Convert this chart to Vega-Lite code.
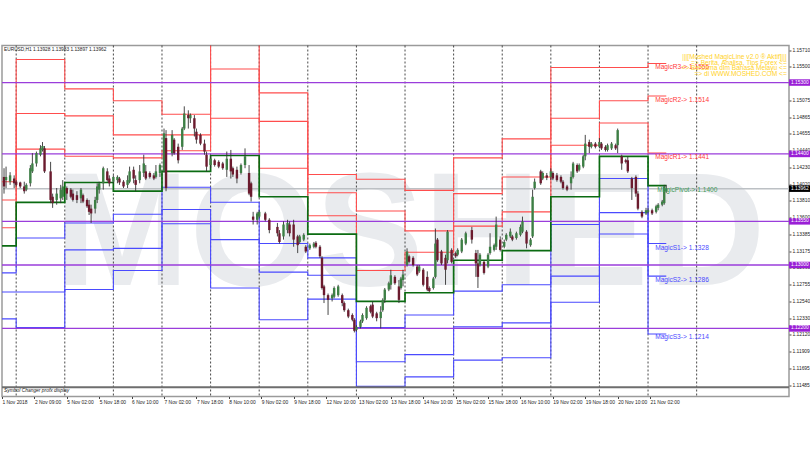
{
  "$schema": "https://vega.github.io/schema/vega-lite/v6.json",
  "width": 787,
  "height": 351,
  "autosize": {"type": "none"},
  "padding": {"left": 2, "top": 45.5, "right": 21, "bottom": 53.5},
  "background": "white",
  "datasets": {
    "candles": [
      {"bar":1,"o":1.1411,"h":1.1422,"l":1.1390,"c":1.1399},{"bar":2,"o":1.1407,"h":1.1424,"l":1.1397,"c":1.1411},{"bar":4,"o":1.1405,"h":1.1417,"l":1.1401,"c":1.1413},{"bar":6,"o":1.1409,"h":1.1413,"l":1.1397,"c":1.1403},{"bar":7,"o":1.1405,"h":1.1407,"l":1.1399,"c":1.1401},{"bar":9,"o":1.1404,"h":1.1405,"l":1.1397,"c":1.1399},{"bar":11,"o":1.1399,"h":1.1405,"l":1.1390,"c":1.1393},{"bar":12,"o":1.1395,"h":1.1403,"l":1.1393,"c":1.1401},{"bar":14,"o":1.1403,"h":1.1426,"l":1.1399,"c":1.1422},{"bar":15,"o":1.1418,"h":1.1441,"l":1.1416,"c":1.1428},{"bar":17,"o":1.1428,"h":1.1443,"l":1.1424,"c":1.1441},{"bar":19,"o":1.1439,"h":1.1451,"l":1.1437,"c":1.1447},{"bar":20,"o":1.1445,"h":1.1455,"l":1.1443,"c":1.1450},{"bar":21,"o":1.1447,"h":1.1450,"l":1.1416,"c":1.1418},{"bar":24,"o":1.1418,"h":1.1430,"l":1.1378,"c":1.1382},{"bar":25,"o":1.1386,"h":1.1390,"l":1.1372,"c":1.1378},{"bar":27,"o":1.1382,"h":1.1397,"l":1.1376,"c":1.1390},{"bar":29,"o":1.1384,"h":1.1401,"l":1.1378,"c":1.1395},{"bar":30,"o":1.1386,"h":1.1407,"l":1.1382,"c":1.1399},{"bar":32,"o":1.1397,"h":1.1399,"l":1.1382,"c":1.1390},{"bar":34,"o":1.1395,"h":1.1397,"l":1.1384,"c":1.1386},{"bar":35,"o":1.1390,"h":1.1395,"l":1.1380,"c":1.1382},{"bar":37,"o":1.1388,"h":1.1393,"l":1.1378,"c":1.1382},{"bar":39,"o":1.1384,"h":1.1397,"l":1.1378,"c":1.1395},{"bar":40,"o":1.1388,"h":1.1390,"l":1.1378,"c":1.1380},{"bar":42,"o":1.1382,"h":1.1384,"l":1.1372,"c":1.1374},{"bar":43,"o":1.1376,"h":1.1382,"l":1.1363,"c":1.1367},{"bar":44,"o":1.1371,"h":1.1376,"l":1.1353,"c":1.1365},{"bar":46,"o":1.1371,"h":1.1386,"l":1.1365,"c":1.1382},{"bar":47,"o":1.1382,"h":1.1403,"l":1.1378,"c":1.1399},{"bar":48,"o":1.1395,"h":1.1405,"l":1.1390,"c":1.1403},{"bar":50,"o":1.1403,"h":1.1424,"l":1.1395,"c":1.1422},{"bar":52,"o":1.1418,"h":1.1422,"l":1.1405,"c":1.1407},{"bar":53,"o":1.1409,"h":1.1413,"l":1.1399,"c":1.1403},{"bar":55,"o":1.1405,"h":1.1413,"l":1.1403,"c":1.1411},{"bar":57,"o":1.1407,"h":1.1413,"l":1.1403,"c":1.1411},{"bar":58,"o":1.1409,"h":1.1411,"l":1.1401,"c":1.1404},{"bar":60,"o":1.1405,"h":1.1407,"l":1.1397,"c":1.1399},{"bar":62,"o":1.1401,"h":1.1413,"l":1.1397,"c":1.1407},{"bar":63,"o":1.1405,"h":1.1424,"l":1.1403,"c":1.1418},{"bar":65,"o":1.1420,"h":1.1424,"l":1.1403,"c":1.1409},{"bar":66,"o":1.1407,"h":1.1413,"l":1.1393,"c":1.1401},{"bar":68,"o":1.1407,"h":1.1426,"l":1.1403,"c":1.1418},{"bar":70,"o":1.1416,"h":1.1439,"l":1.1411,"c":1.1428},{"bar":71,"o":1.1418,"h":1.1426,"l":1.1407,"c":1.1409},{"bar":73,"o":1.1416,"h":1.1418,"l":1.1409,"c":1.1411},{"bar":75,"o":1.1413,"h":1.1416,"l":1.1407,"c":1.1409},{"bar":76,"o":1.1411,"h":1.1426,"l":1.1409,"c":1.1418},{"bar":78,"o":1.1416,"h":1.1428,"l":1.1411,"c":1.1426},{"bar":80,"o":1.1418,"h":1.1472,"l":1.1416,"c":1.1466},{"bar":81,"o":1.1460,"h":1.1470,"l":1.1393,"c":1.1397},{"bar":84,"o":1.1441,"h":1.1470,"l":1.1437,"c":1.1464},{"bar":85,"o":1.1458,"h":1.1460,"l":1.1439,"c":1.1441},{"bar":87,"o":1.1449,"h":1.1453,"l":1.1428,"c":1.1432},{"bar":89,"o":1.1449,"h":1.1474,"l":1.1445,"c":1.1472},{"bar":90,"o":1.1472,"h":1.1500,"l":1.1470,"c":1.1491},{"bar":92,"o":1.1489,"h":1.1495,"l":1.1472,"c":1.1485},{"bar":93,"o":1.1485,"h":1.1491,"l":1.1479,"c":1.1489},{"bar":95,"o":1.1485,"h":1.1489,"l":1.1462,"c":1.1472},{"bar":96,"o":1.1468,"h":1.1472,"l":1.1453,"c":1.1458},{"bar":98,"o":1.1464,"h":1.1466,"l":1.1451,"c":1.1453},{"bar":100,"o":1.1453,"h":1.1458,"l":1.1439,"c":1.1443},{"bar":101,"o":1.1439,"h":1.1443,"l":1.1418,"c":1.1424},{"bar":103,"o":1.1426,"h":1.1437,"l":1.1422,"c":1.1434},{"bar":105,"o":1.1432,"h":1.1434,"l":1.1424,"c":1.1426},{"bar":107,"o":1.1430,"h":1.1432,"l":1.1422,"c":1.1424},{"bar":109,"o":1.1428,"h":1.1430,"l":1.1420,"c":1.1422},{"bar":111,"o":1.1420,"h":1.1443,"l":1.1411,"c":1.1434},{"bar":113,"o":1.1434,"h":1.1445,"l":1.1409,"c":1.1418},{"bar":114,"o":1.1422,"h":1.1424,"l":1.1411,"c":1.1414},{"bar":116,"o":1.1420,"h":1.1424,"l":1.1403,"c":1.1409},{"bar":118,"o":1.1416,"h":1.1428,"l":1.1414,"c":1.1426},{"bar":120,"o":1.1426,"h":1.1447,"l":1.1422,"c":1.1437},{"bar":122,"o":1.1416,"h":1.1426,"l":1.1388,"c":1.1390},{"bar":123,"o":1.1403,"h":1.1405,"l":1.1380,"c":1.1386},{"bar":124,"o":1.1361,"h":1.1367,"l":1.1351,"c":1.1357},{"bar":126,"o":1.1357,"h":1.1367,"l":1.1351,"c":1.1365},{"bar":127,"o":1.1361,"h":1.1369,"l":1.1359,"c":1.1367},{"bar":130,"o":1.1365,"h":1.1367,"l":1.1355,"c":1.1357},{"bar":132,"o":1.1357,"h":1.1359,"l":1.1340,"c":1.1344},{"bar":136,"o":1.1348,"h":1.1353,"l":1.1336,"c":1.1340},{"bar":137,"o":1.1340,"h":1.1344,"l":1.1327,"c":1.1329},{"bar":139,"o":1.1336,"h":1.1355,"l":1.1332,"c":1.1351},{"bar":141,"o":1.1344,"h":1.1357,"l":1.1340,"c":1.1353},{"bar":142,"o":1.1351,"h":1.1355,"l":1.1336,"c":1.1340},{"bar":144,"o":1.1351,"h":1.1357,"l":1.1323,"c":1.1332},{"bar":146,"o":1.1336,"h":1.1338,"l":1.1315,"c":1.1325},{"bar":147,"o":1.1329,"h":1.1338,"l":1.1327,"c":1.1336},{"bar":149,"o":1.1332,"h":1.1340,"l":1.1330,"c":1.1338},{"bar":150,"o":1.1323,"h":1.1325,"l":1.1315,"c":1.1317},{"bar":152,"o":1.1321,"h":1.1327,"l":1.1319,"c":1.1325},{"bar":154,"o":1.1323,"h":1.1329,"l":1.1321,"c":1.1327},{"bar":155,"o":1.1328,"h":1.1330,"l":1.1321,"c":1.1323},{"bar":157,"o":1.1323,"h":1.1325,"l":1.1309,"c":1.1311},{"bar":158,"o":1.1309,"h":1.1311,"l":1.1269,"c":1.1271},{"bar":159,"o":1.1273,"h":1.1275,"l":1.1252,"c":1.1262},{"bar":161,"o":1.1262,"h":1.1264,"l":1.1237,"c":1.1256},{"bar":163,"o":1.1258,"h":1.1264,"l":1.1254,"c":1.1262},{"bar":164,"o":1.1260,"h":1.1273,"l":1.1258,"c":1.1271},{"bar":166,"o":1.1262,"h":1.1275,"l":1.1260,"c":1.1273},{"bar":168,"o":1.1262,"h":1.1264,"l":1.1248,"c":1.1252},{"bar":169,"o":1.1252,"h":1.1254,"l":1.1241,"c":1.1243},{"bar":171,"o":1.1243,"h":1.1245,"l":1.1233,"c":1.1235},{"bar":173,"o":1.1237,"h":1.1239,"l":1.1229,"c":1.1231},{"bar":174,"o":1.1231,"h":1.1233,"l":1.1215,"c":1.1217},{"bar":175,"o":1.1218,"h":1.1224,"l":1.1216,"c":1.1222},{"bar":177,"o":1.1222,"h":1.1231,"l":1.1220,"c":1.1229},{"bar":178,"o":1.1229,"h":1.1239,"l":1.1227,"c":1.1237},{"bar":180,"o":1.1233,"h":1.1248,"l":1.1231,"c":1.1246},{"bar":182,"o":1.1248,"h":1.1250,"l":1.1239,"c":1.1241},{"bar":183,"o":1.1250,"h":1.1254,"l":1.1233,"c":1.1235},{"bar":185,"o":1.1239,"h":1.1241,"l":1.1229,"c":1.1233},{"bar":187,"o":1.1233,"h":1.1248,"l":1.1220,"c":1.1241},{"bar":188,"o":1.1243,"h":1.1258,"l":1.1241,"c":1.1256},{"bar":189,"o":1.1256,"h":1.1271,"l":1.1252,"c":1.1269},{"bar":191,"o":1.1269,"h":1.1279,"l":1.1267,"c":1.1277},{"bar":192,"o":1.1275,"h":1.1294,"l":1.1269,"c":1.1287},{"bar":194,"o":1.1285,"h":1.1287,"l":1.1275,"c":1.1277},{"bar":196,"o":1.1273,"h":1.1281,"l":1.1252,"c":1.1256},{"bar":197,"o":1.1271,"h":1.1285,"l":1.1269,"c":1.1283},{"bar":198,"o":1.1281,"h":1.1294,"l":1.1273,"c":1.1288},{"bar":200,"o":1.1300,"h":1.1321,"l":1.1298,"c":1.1317},{"bar":201,"o":1.1311,"h":1.1313,"l":1.1302,"c":1.1304},{"bar":203,"o":1.1309,"h":1.1311,"l":1.1298,"c":1.1300},{"bar":205,"o":1.1298,"h":1.1300,"l":1.1286,"c":1.1288},{"bar":206,"o":1.1292,"h":1.1300,"l":1.1290,"c":1.1298},{"bar":208,"o":1.1294,"h":1.1296,"l":1.1273,"c":1.1275},{"bar":210,"o":1.1285,"h":1.1292,"l":1.1267,"c":1.1269},{"bar":211,"o":1.1271,"h":1.1273,"l":1.1265,"c":1.1267},{"bar":213,"o":1.1271,"h":1.1285,"l":1.1269,"c":1.1283},{"bar":214,"o":1.1285,"h":1.1346,"l":1.1283,"c":1.1327},{"bar":215,"o":1.1332,"h":1.1334,"l":1.1304,"c":1.1306},{"bar":217,"o":1.1317,"h":1.1319,"l":1.1300,"c":1.1302},{"bar":219,"o":1.1309,"h":1.1313,"l":1.1275,"c":1.1294},{"bar":220,"o":1.1306,"h":1.1344,"l":1.1302,"c":1.1342},{"bar":222,"o":1.1319,"h":1.1321,"l":1.1302,"c":1.1304},{"bar":224,"o":1.1315,"h":1.1317,"l":1.1309,"c":1.1311},{"bar":225,"o":1.1313,"h":1.1321,"l":1.1311,"c":1.1319},{"bar":227,"o":1.1317,"h":1.1334,"l":1.1315,"c":1.1332},{"bar":229,"o":1.1327,"h":1.1342,"l":1.1325,"c":1.1340},{"bar":232,"o":1.1344,"h":1.1348,"l":1.1327,"c":1.1332},{"bar":234,"o":1.1315,"h":1.1319,"l":1.1285,"c":1.1302},{"bar":235,"o":1.1302,"h":1.1319,"l":1.1271,"c":1.1285},{"bar":236,"o":1.1300,"h":1.1315,"l":1.1298,"c":1.1313},{"bar":238,"o":1.1304,"h":1.1306,"l":1.1288,"c":1.1290},{"bar":240,"o":1.1298,"h":1.1315,"l":1.1296,"c":1.1313},{"bar":241,"o":1.1315,"h":1.1340,"l":1.1313,"c":1.1323},{"bar":243,"o":1.1319,"h":1.1327,"l":1.1317,"c":1.1325},{"bar":244,"o":1.1323,"h":1.1361,"l":1.1319,"c":1.1351},{"bar":246,"o":1.1332,"h":1.1336,"l":1.1317,"c":1.1319},{"bar":248,"o":1.1323,"h":1.1332,"l":1.1321,"c":1.1329},{"bar":249,"o":1.1332,"h":1.1340,"l":1.1330,"c":1.1338},{"bar":251,"o":1.1336,"h":1.1346,"l":1.1334,"c":1.1342},{"bar":252,"o":1.1336,"h":1.1338,"l":1.1330,"c":1.1332},{"bar":254,"o":1.1334,"h":1.1342,"l":1.1332,"c":1.1340},{"bar":256,"o":1.1338,"h":1.1351,"l":1.1336,"c":1.1348},{"bar":257,"o":1.1342,"h":1.1361,"l":1.1340,"c":1.1355},{"bar":259,"o":1.1342,"h":1.1344,"l":1.1321,"c":1.1327},{"bar":261,"o":1.1325,"h":1.1334,"l":1.1323,"c":1.1332},{"bar":262,"o":1.1336,"h":1.1395,"l":1.1334,"c":1.1386},{"bar":263,"o":1.1397,"h":1.1409,"l":1.1395,"c":1.1405},{"bar":266,"o":1.1418,"h":1.1420,"l":1.1401,"c":1.1403},{"bar":267,"o":1.1409,"h":1.1418,"l":1.1407,"c":1.1416},{"bar":269,"o":1.1413,"h":1.1416,"l":1.1407,"c":1.1410},{"bar":271,"o":1.1411,"h":1.1422,"l":1.1407,"c":1.1418},{"bar":272,"o":1.1416,"h":1.1418,"l":1.1407,"c":1.1409},{"bar":274,"o":1.1413,"h":1.1416,"l":1.1405,"c":1.1407},{"bar":276,"o":1.1411,"h":1.1413,"l":1.1403,"c":1.1405},{"bar":277,"o":1.1405,"h":1.1407,"l":1.1395,"c":1.1397},{"bar":279,"o":1.1399,"h":1.1401,"l":1.1393,"c":1.1395},{"bar":281,"o":1.1403,"h":1.1418,"l":1.1395,"c":1.1411},{"bar":282,"o":1.1411,"h":1.1430,"l":1.1409,"c":1.1428},{"bar":284,"o":1.1426,"h":1.1428,"l":1.1416,"c":1.1418},{"bar":285,"o":1.1420,"h":1.1428,"l":1.1418,"c":1.1426},{"bar":287,"o":1.1424,"h":1.1439,"l":1.1422,"c":1.1437},{"bar":288,"o":1.1437,"h":1.1464,"l":1.1432,"c":1.1453},{"bar":290,"o":1.1455,"h":1.1458,"l":1.1441,"c":1.1449},{"bar":291,"o":1.1449,"h":1.1455,"l":1.1447,"c":1.1453},{"bar":293,"o":1.1453,"h":1.1455,"l":1.1447,"c":1.1449},{"bar":295,"o":1.1449,"h":1.1460,"l":1.1447,"c":1.1455},{"bar":296,"o":1.1453,"h":1.1455,"l":1.1445,"c":1.1447},{"bar":298,"o":1.1449,"h":1.1451,"l":1.1443,"c":1.1445},{"bar":299,"o":1.1445,"h":1.1453,"l":1.1443,"c":1.1451},{"bar":301,"o":1.1447,"h":1.1455,"l":1.1445,"c":1.1453},{"bar":303,"o":1.1451,"h":1.1453,"l":1.1445,"c":1.1447},{"bar":304,"o":1.1451,"h":1.1472,"l":1.1441,"c":1.1470},{"bar":306,"o":1.1437,"h":1.1439,"l":1.1420,"c":1.1428},{"bar":308,"o":1.1432,"h":1.1434,"l":1.1428,"c":1.1430},{"bar":309,"o":1.1432,"h":1.1437,"l":1.1416,"c":1.1418},{"bar":311,"o":1.1409,"h":1.1411,"l":1.1382,"c":1.1397},{"bar":313,"o":1.1411,"h":1.1413,"l":1.1386,"c":1.1390},{"bar":314,"o":1.1390,"h":1.1393,"l":1.1369,"c":1.1371},{"bar":316,"o":1.1367,"h":1.1369,"l":1.1359,"c":1.1361},{"bar":318,"o":1.1365,"h":1.1372,"l":1.1363,"c":1.1369},{"bar":319,"o":1.1367,"h":1.1372,"l":1.1365,"c":1.1369},{"bar":321,"o":1.1369,"h":1.1371,"l":1.1363,"c":1.1365},{"bar":323,"o":1.1367,"h":1.1376,"l":1.1365,"c":1.1374},{"bar":324,"o":1.1372,"h":1.1378,"l":1.1369,"c":1.1376},{"bar":326,"o":1.1376,"h":1.1382,"l":1.1374,"c":1.1380},{"bar":327,"o":1.1378,"h":1.1401,"l":1.1376,"c":1.1399},{"bar":328,"o":1.1393,"h":1.1401,"l":1.1391,"c":1.13962}
    ],
    "levels": [
      {"bar":0,"R3":1.1405,"R2":1.1382,"R1":1.1347,"Pivot":1.1324,"S1":1.1290,"S2":1.1266,"S3":1.1232},
      {"bar":7,"R3":1.1559,"R2":1.1491,"R1":1.1446,"Pivot":1.1379,"S1":1.1334,"S2":1.1266,"S3":1.1221},
      {"bar":31,"R3":1.1522,"R2":1.1488,"R1":1.1437,"Pivot":1.1404,"S1":1.1353,"S2":1.1319,"S3":1.1269},
      {"bar":55,"R3":1.1507,"R2":1.1464,"R1":1.1435,"Pivot":1.1393,"S1":1.1364,"S2":1.1321,"S3":1.1293},
      {"bar":79,"R3":1.1490,"R2":1.1464,"R1":1.1444,"Pivot":1.1418,"S1":1.1398,"S2":1.1370,"S3":1.1352},
      {"bar":103,"R3":1.1585,"R2":1.1547,"R1":1.1485,"Pivot":1.1438,"S1":1.1379,"S2":1.1332,"S3":1.1271},
      {"bar":127,"R3":1.1517,"R2":1.1481,"R1":1.1422,"Pivot":1.1386,"S1":1.1327,"S2":1.1291,"S3":1.1231},
      {"bar":151,"R3":1.1414,"R2":1.1391,"R1":1.1362,"Pivot":1.1339,"S1":1.1309,"S2":1.1287,"S3":1.1257},
      {"bar":175,"R3":1.1408,"R2":1.1368,"R1":1.1293,"Pivot":1.1254,"S1":1.1221,"S2":1.1178,"S3":1.1147},
      {"bar":199,"R3":1.1394,"R2":1.1343,"R1":1.1316,"Pivot":1.1265,"S1":1.1237,"S2":1.1187,"S3":1.1159},
      {"bar":223,"R3":1.1435,"R2":1.1390,"R1":1.1349,"Pivot":1.1306,"S1":1.1267,"S2":1.1222,"S3":1.1180},
      {"bar":247,"R3":1.1459,"R2":1.1411,"R1":1.1367,"Pivot":1.1318,"S1":1.1275,"S2":1.1227,"S3":1.1183},
      {"bar":271,"R3":1.1549,"R2":1.1485,"R1":1.1451,"Pivot":1.1386,"S1":1.1351,"S2":1.1286,"S3":1.1253},
      {"bar":295,"R3":1.1549,"R2":1.1507,"R1":1.1479,"Pivot":1.1437,"S1":1.1409,"S2":1.1366,"S3":1.1339},
      {"bar":319,"R3":1.1554,"R2":1.1513,"R1":1.1441,"Pivot":1.1400,"S1":1.1327,"S2":1.1286,"S3":1.1213},
      {"bar":328,"R3":1.1554,"R2":1.1513,"R1":1.1441,"Pivot":1.1400,"S1":1.1327,"S2":1.1286,"S3":1.1213}
    ],
    "round_levels": [
      {"bar":0,"to":388.6,"end":399,"price":1.153,"label":"1.15300"},
      {"bar":0,"to":388.6,"end":399,"price":1.144,"label":"1.14400"},
      {"bar":0,"to":388.6,"end":399,"price":1.1355,"label":"1.13550"},
      {"bar":0,"to":388.6,"end":399,"price":1.13,"label":"1.13000"},
      {"bar":0,"to":388.6,"end":399,"price":1.122,"label":"1.12200"}
    ],
    "bid": [{"bar":0,"to":388.6,"end":399,"price":1.13962,"label":"1.13962"}],
    "separator": [{"bar":0,"to":388.6,"price":1.1146}],
    "days": [
      {"bar":7,"price":1.15767,"low":1.11342},{"bar":31,"price":1.15767,"low":1.11342},{"bar":55,"price":1.15767,"low":1.11342},{"bar":79,"price":1.15767,"low":1.11342},{"bar":103,"price":1.15767,"low":1.11342},{"bar":127,"price":1.15767,"low":1.11342},{"bar":151,"price":1.15767,"low":1.11342},{"bar":175,"price":1.15767,"low":1.11342},{"bar":199,"price":1.15767,"low":1.11342},{"bar":223,"price":1.15767,"low":1.11342},{"bar":247,"price":1.15767,"low":1.11342},{"bar":271,"price":1.15767,"low":1.11342},{"bar":295,"price":1.15767,"low":1.11342},{"bar":319,"price":1.15767,"low":1.11342},{"bar":343,"price":1.15767,"low":1.11342}
    ],
    "magic": [
      {"bar":322.5,"price":1.1549,"group":"red","label":"MagicR3-> 1.1555"},
      {"bar":322.5,"price":1.1508,"group":"red","label":"MagicR2-> 1.1514"},
      {"bar":322.5,"price":1.1436,"group":"red","label":"MagicR1-> 1.1441"},
      {"bar":323.5,"price":1.1395,"group":"green","label":"MagicPivot-> 1.1400"},
      {"bar":322.5,"price":1.1322,"group":"blue","label":"MagicS1-> 1.1328"},
      {"bar":322.5,"price":1.1281,"group":"blue","label":"MagicS2-> 1.1286"},
      {"bar":322.5,"price":1.1209,"group":"blue","label":"MagicS3-> 1.1214"}
    ],
    "banner": [
      {"bar":387.5,"price":1.15626,"label":"|||[Moshed MagicLine v2.0 ® Aktif]|||"},
      {"bar":387.5,"price":1.1555,"label":"=> Berita, Analisa, Tips Forex <="},
      {"bar":387.5,"price":1.15479,"label":"=> Bersama dlm Bahasa Melayu <="},
      {"bar":387.5,"price":1.15404,"label":"=> di WWW.MOSHED.COM <="}
    ]
  },
  "encoding": {
    "x": {
      "field": "bar",
      "type": "quantitative",
      "scale": {"domain": [0, 388.6], "nice": false, "zero": false},
      "axis": {
        "title": null,
        "grid": false,
        "domain": false,
        "values": [0, 16, 32, 48, 64, 80, 96, 112, 128, 144, 160, 176, 192, 208, 224, 240, 256, 272, 288, 304, 320],
        "labelExpr": "['1 Nov 2018','2 Nov 09:00','5 Nov 02:00','5 Nov 18:00','6 Nov 10:00','7 Nov 02:00','7 Nov 18:00','8 Nov 10:00','9 Nov 02:00','9 Nov 18:00','12 Nov 10:00','13 Nov 02:00','13 Nov 18:00','14 Nov 10:00','15 Nov 02:00','15 Nov 18:00','16 Nov 10:00','19 Nov 02:00','19 Nov 18:00','20 Nov 10:00','21 Nov 02:00'][datum.value/16]",
        "labelAlign": "left",
        "labelOverlap": false,
        "labelBound": false,
        "labelFlush": false,
        "labelFont": "Liberation Sans",
        "labelFontSize": 4.9,
        "labelColor": "#222",
        "labelPadding": 1,
        "tickSize": 2,
        "tickColor": "#444"
      }
    },
    "y": {
      "field": "price",
      "type": "quantitative",
      "scale": {"domain": [1.11342, 1.15767], "nice": false, "zero": false},
      "axis": {
        "title": null,
        "orient": "right",
        "grid": false,
        "domain": false,
        "values": [1.1571, 1.155, 1.1529, 1.15075, 1.14865, 1.14655, 1.1444, 1.1423, 1.1402, 1.1381, 1.136, 1.13385, 1.13175, 1.12965, 1.12755, 1.1254, 1.1233, 1.1212, 1.11909, 1.11695, 1.11485],
        "labelExpr": "format(datum.value, '.5f')",
        "labelOverlap": false,
        "labelBound": false,
        "labelFlush": false,
        "labelFont": "Liberation Sans",
        "labelFontSize": 4.9,
        "labelColor": "#222",
        "labelPadding": 1,
        "tickSize": 2,
        "tickColor": "#444"
      }
    }
  },
  "layer": [
    {
      "data": {"values": [{"bar": 201.5, "price": 1.12749, "label": "MOSHED"}]},
      "mark": {"type": "text", "font": "Liberation Sans", "fontWeight": "bold", "fontSize": 162, "align": "center", "baseline": "alphabetic", "color": "#e9ebee"},
      "encoding": {"text": {"field": "label"}}
    },
    {
      "data": {"name": "bid"},
      "mark": {"type": "rule", "color": "#bcc0c4", "strokeWidth": 1.5},
      "encoding": {"x2": {"field": "to"}}
    },
    {
      "data": {"name": "days"},
      "mark": {"type": "rule", "color": "#333333", "strokeWidth": 0.9, "strokeDash": [2, 2]},
      "encoding": {"y2": {"field": "low"}}
    },
    {
      "data": {"name": "levels"},
      "transform": [{"fold": ["R3", "R2", "R1"], "as": ["level", "price"]}],
      "mark": {"type": "line", "interpolate": "step-after", "color": "#ff4d4d", "strokeWidth": 1.1, "clip": true},
      "encoding": {"detail": {"field": "level"}}
    },
    {
      "data": {"name": "levels"},
      "transform": [{"fold": ["S1", "S2", "S3"], "as": ["level", "price"]}],
      "mark": {"type": "line", "interpolate": "step-after", "color": "#4a4aff", "strokeWidth": 1.1, "clip": true},
      "encoding": {"detail": {"field": "level"}}
    },
    {
      "data": {"name": "levels"},
      "transform": [{"fold": ["Pivot"], "as": ["level", "price"]}],
      "mark": {"type": "line", "interpolate": "step-after", "color": "#0b6b12", "strokeWidth": 1.7, "clip": true}
    },
    {
      "data": {"name": "round_levels"},
      "mark": {"type": "rule", "color": "#9a3ddb", "strokeWidth": 1.3},
      "encoding": {"x2": {"field": "to"}}
    },
    {
      "data": {"name": "separator"},
      "mark": {"type": "rule", "color": "#6e6e6e", "strokeWidth": 2},
      "encoding": {"x2": {"field": "to"}}
    },
    {
      "data": {"name": "candles"},
      "mark": {"type": "rule", "color": "#333333", "strokeWidth": 0.9},
      "encoding": {"y": {"field": "h", "type": "quantitative"}, "y2": {"field": "l"}}
    },
    {
      "data": {"name": "candles"},
      "mark": {"type": "rule", "strokeWidth": 2.4},
      "encoding": {
        "y": {"field": "o", "type": "quantitative"},
        "y2": {"field": "c"},
        "color": {"condition": {"test": "datum.c >= datum.o", "value": "#3d7f45"}, "value": "#6b1b2e"}
      }
    },
    {
      "data": {"name": "magic"},
      "mark": {"type": "text", "font": "Liberation Sans", "fontSize": 6.6, "align": "left", "baseline": "middle"},
      "encoding": {
        "text": {"field": "label"},
        "color": {"field": "group", "type": "nominal", "legend": null, "scale": {"domain": ["red", "green", "blue"], "range": ["#ff3b3b", "#3f9a5a", "#4a4aff"]}}
      }
    },
    {
      "data": {"name": "banner"},
      "mark": {"type": "text", "font": "Liberation Sans", "fontSize": 6.6, "align": "right", "baseline": "middle", "color": "#ffd21f"},
      "encoding": {"text": {"field": "label"}}
    },
    {
      "data": {"values": [{"bar": 1, "price": 1.1571, "label": "EURUSD,H1  1.13928 1.13983 1.13897 1.13962"}]},
      "mark": {"type": "text", "font": "Liberation Sans", "fontSize": 4.8, "align": "left", "baseline": "middle", "color": "#222222"},
      "encoding": {"text": {"field": "label"}}
    },
    {
      "data": {"values": [{"bar": 1, "price": 1.11407, "label": "Symbol Changer profx display"}]},
      "mark": {"type": "text", "font": "Liberation Sans", "fontStyle": "italic", "fontSize": 4.9, "align": "left", "baseline": "middle", "color": "#222222"},
      "encoding": {"text": {"field": "label"}}
    },
    {
      "data": {"name": "round_levels"},
      "mark": {"type": "rule", "color": "#9a1fd6", "strokeWidth": 6.5},
      "encoding": {"x": {"field": "to", "type": "quantitative"}, "x2": {"field": "end"}}
    },
    {
      "data": {"name": "round_levels"},
      "mark": {"type": "text", "font": "Liberation Sans", "fontSize": 4.9, "align": "left", "baseline": "middle", "color": "white", "dx": 2},
      "encoding": {"x": {"field": "to", "type": "quantitative"}, "text": {"field": "label"}}
    },
    {
      "data": {"name": "bid"},
      "mark": {"type": "rule", "color": "#000000", "strokeWidth": 6.5},
      "encoding": {"x": {"field": "to", "type": "quantitative"}, "x2": {"field": "end"}}
    },
    {
      "data": {"name": "bid"},
      "mark": {"type": "text", "font": "Liberation Sans", "fontSize": 4.9, "align": "left", "baseline": "middle", "color": "white", "dx": 2},
      "encoding": {"x": {"field": "to", "type": "quantitative"}, "text": {"field": "label"}}
    }
  ],
  "config": {"view": {"stroke": "#9a9a9a", "strokeWidth": 1.5}}
}
